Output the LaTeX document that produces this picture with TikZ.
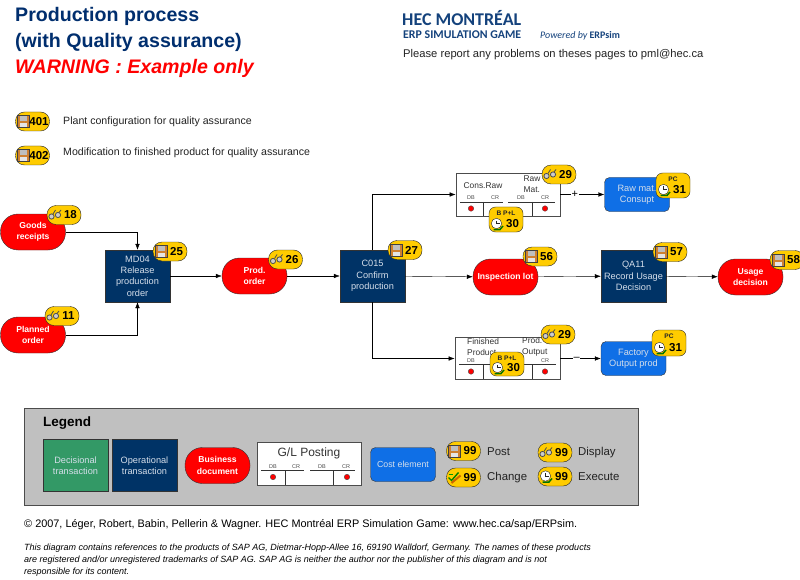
\documentclass[tikz,border=0pt]{standalone}
\usepackage{fontspec}
\setmainfont{Liberation Sans}
\newfontfamily\logofont{Carlito}
\usetikzlibrary{arrows.meta,positioning}

\definecolor{navy}{HTML}{003366}
\definecolor{titleblue}{HTML}{002E6E}
\definecolor{logoblue}{HTML}{14427C}
\definecolor{decgreen}{HTML}{339966}
\definecolor{costblue}{HTML}{0F6FE6}
\definecolor{gold}{HTML}{FFCC00}
\definecolor{paleblue}{HTML}{D5DEEA}
\definecolor{legendgray}{HTML}{C0C0C0}
\definecolor{bodytext}{HTML}{222222}

% small pill with an icon and a number
\newcommand{\badge}[4]{%
  \node[badge] (#1) at (#2) {};
  \pic at ([xshift=-9pt]#1.center) {#3};
  \node[badgenum] (#1-num) at ([xshift=6.5pt]#1.center) {#4};
}
% taller version with a module tag over the clock
\newcommand{\tagbadge}[4]{%
  \node[tagpill, minimum height=#3pt] (#1) at (#2) {};
  \node[tagtxt] (#1-tag) at ([yshift=#3/2*1pt-6pt]#1.center) {\detokenize{B P+L}};
  \pic at ([xshift=-9pt,yshift=-#3/2*1pt+8pt]#1.center) {exec};
  \node[badgenum] (#1-num) at ([xshift=6.5pt,yshift=-#3/2*1pt+8pt]#1.center) {#4};
}
\newcommand{\pcbadge}[4]{%
  \node[tagpill, minimum height=#3pt] (#1) at (#2) {};
  \node[tagtxt] (#1-tag) at ([yshift=#3/2*1pt-6pt]#1.center) {PC};
  \pic at ([xshift=-9pt,yshift=-#3/2*1pt+8pt]#1.center) {exec};
  \node[badgenum] (#1-num) at ([xshift=6.5pt,yshift=-#3/2*1pt+8pt]#1.center) {#4};
}

\begin{document}
\begin{tikzpicture}[
  x=1pt, y=-1pt,
  optrans/.style={draw=black!80, fill=navy, text=paleblue, minimum width=65pt,
                  minimum height=52pt, inner sep=0pt, align=center,
                  font=\fontsize{9.2}{11.3}\selectfont},
  dectrans/.style={optrans, fill=decgreen},
  doc/.style={draw=black!80, fill=red, text=white, minimum width=65pt,
              minimum height=36pt, inner sep=0pt, rounded corners=17.5pt, align=center,
              font=\fontsize{8.6}{11.3}\selectfont\bfseries},
  cost/.style={draw=black!80, fill=costblue, text=paleblue, minimum width=65pt,
               minimum height=34pt, inner sep=0pt, rounded corners=5pt, align=center,
               font=\fontsize{9.2}{11.3}\selectfont},
  glform/.style={draw=black!70, thick, fill=white, inner sep=0pt},
  gltxt/.style={font=\fontsize{8.4}{10.4}\selectfont, text=black!80, inner sep=0pt, align=left},
  glhead/.style={font=\fontsize{5.5}{6}\selectfont, text=black!70, inner sep=0pt},
  gldot/.style={circle, draw=black!70, fill=red, minimum size=5.5pt, inner sep=0pt},
  glrule/.style={draw=black!80},
  badge/.style={draw=black!85, fill=gold, minimum width=34pt, minimum height=19pt,
                inner sep=0pt, rounded corners=9pt},
  tagpill/.style={draw=black!85, fill=gold, minimum width=34pt, inner sep=0pt,
                  rounded corners=6.5pt},
  badgenum/.style={font=\fontsize{11.5}{12}\selectfont\bfseries, inner sep=0pt},
  tagtxt/.style={font=\fontsize{6.6}{7}\selectfont\bfseries, text=black!85, inner sep=0pt},
  body/.style={font=\fontsize{10.6}{12}\selectfont, text=bodytext, anchor=west, inner sep=0pt},
  every edge/.style={draw, -{Latex[length=6pt,width=4.5pt]}},
  link/.style={draw, -{Latex[length=6pt,width=4.5pt]}},
  lbl/.style={font=\fontsize{11}{11}\selectfont, fill=white, inner sep=0.5pt},
  post/.pic={
    \draw[black!75, fill=brown!75!orange] (-6,-6) rectangle (6,6);
    \fill[black!25] (-3.5,-5.5) rectangle (3.5,-0.5);
    \fill[black!10] (-3.5,1.5) rectangle (3.5,5.5);
  },
  display/.pic={
    \draw[black!70, fill=black!20, thick] (-3.5,1.5) circle (2.6);
    \draw[black!70, fill=black!20, thick] (3,0) circle (2.6);
    \draw[black!70, thick] (-2,-1) -- (0.5,-5) (4,-2.5) -- (6,-5);
  },
  change/.pic={
    \draw[green!50!black, line width=1.4pt] (-6,0) -- (-3,3) -- (4,-5);
    \draw[orange!80!black, line width=2pt] (-3,5.5) -- (6,-2);
    \draw[green!60!black, line width=1pt] (-6,-3) -- (-2,-3);
  },
  exec/.pic={
    \draw[green!45!black, line width=1.5pt] (-3.5,5.5) -- (3,5.5) -- (6,2);
    \draw[black!85, fill=white] (-0.5,-0.5) circle (5.2);
    \draw[black!85] (-0.5,-3.5) -- (-0.5,-0.5) -- (2.5,-0.5);
  }
]
  \useasboundingbox (0,0) rectangle (800,580);

  % heading
  \node[anchor=west, inner sep=0pt, text=titleblue, font=\fontsize{19.6}{20}\selectfont\bfseries]
    (title1) at (15,16) {Production process};
  \node[anchor=west, inner sep=0pt, text=titleblue, font=\fontsize{19.6}{20}\selectfont\bfseries]
    (title2) at (15,42) {(with Quality assurance)};
  \node[anchor=west, inner sep=0pt, text=red, font=\fontsize{19.6}{20}\selectfont\bfseries\itshape]
    (title3) at (15,68) {WARNING : Example only};

  % logo block
  \node[anchor=west, inner sep=0pt, text=logoblue] (logo1) at (402,18)
    {\resizebox{119pt}{!}{\logofont\bfseries HEC MONTRÉAL}};
  \node[anchor=west, inner sep=0pt, text=logoblue] (logo2) at (403,35)
    {\resizebox{118pt}{!}{\logofont\bfseries ERP SIMULATION GAME}};
  \node[anchor=west, inner sep=0pt, text=logoblue, font=\logofont\fontsize{10}{10}\selectfont] (logo3) at (540,36)
    {\itshape Powered by \upshape\bfseries ERPsim};
  \node[body, font=\fontsize{11.2}{12}\selectfont] (report) at (403,55)
    {Please report any problems on theses pages to pml@hec.ca};

  % notes at the top
  \badge{n401}{32.5,121.5}{post}{401}
  \badge{n402}{32.5,155.5}{post}{402}
  \node[body] (note401) at (63,122) {Plant configuration for quality assurance};
  \node[body] (note402) at (63,153) {Modification to finished product for quality assurance};

  % main flow
  \node[doc] (goods) at (33,232) {Goods\\receipts};
  \node[doc] (planned) at (33,335) {Planned\\order};
  \node[optrans] (md04) at (137.5,276) {MD04\\Release\\production\\order};
  \node[doc] (prod) at (254.5,276) {Prod.\\order};
  \node[optrans] (c015) at (372.5,276) {C015\\Confirm\\production};
  \node[doc] (insp) at (505.5,277) {Inspection lot};
  \node[optrans] (qa11) at (633.5,276) {QA11\\Record Usage\\Decision};
  \node[doc] (usage) at (750.5,277) {Usage\\decision};

  % postings
  \node[glform, minimum width=104pt, minimum height=43pt] (glraw) at (508,194.5) {};
  \node[glform, minimum width=105pt, minimum height=42pt] (glfin) at (507.5,358.5) {};
  \node[cost] (rawcost) at (637,194.5) {Raw mat.\\Consupt};
  \node[cost] (factcost) at (633.5,358.5) {Factory\\Output prod};

  \draw[link] (goods.east) -| (md04.north);
  \draw[link] (planned.east) -| (md04.south);
  \draw (md04) edge (prod);
  \draw (prod) edge (c015);
  \draw (c015) edge (insp);
  \draw (insp) edge (qa11);
  \draw (qa11) edge (usage);
  \draw[link] (c015.north) |- (glraw.west);
  \draw[link] (c015.south) |- (glfin.west);
  \draw (glraw) edge node[lbl, pos=0.33] {+} (rawcost);
  \draw (glfin) edge node[lbl, pos=0.4] {–} (factcost);

  % upper posting form
  \node[gltxt] (rawleft) at (483,186) {Cons.Raw};
  \node[gltxt] (rawright) at (532,184) {Raw\\Mat.};
  \node[glhead] (rawdb1) at (471,198) {DB};
  \node[glhead] (rawcr1) at (495,198) {CR};
  \node[glhead] (rawdb2) at (521,198) {DB};
  \node[glhead] (rawcr2) at (545,198) {CR};
  \draw[glrule] (460,202) -- (503,202) (508,202) -- (555,202);
  \draw[glrule] (483,202) -- (483,216) (532,202) -- (532,216);
  \node[gldot] (rawred1) at (471,208.5) {};
  \node[gldot] (rawred2) at (545,208.5) {};

  % lower posting form
  \node[gltxt, anchor=west] (finleft) at (467,347) {Finished\\Product};
  \node[gltxt, anchor=west] (finright) at (522,347) {Prod.\\Output};
  \node[glhead] (findb) at (471,361) {DB};
  \node[glhead] (fincr) at (545,361) {CR};
  \draw[glrule] (459,364) -- (556,364);
  \draw[glrule] (483,364) -- (483,379) (532,364) -- (532,379);
  \node[gldot] (finred1) at (471,371.5) {};
  \node[gldot] (finred2) at (545,371.5) {};

  % badges on the flow
  \badge{b18}{64,215}{display}{18}
  \badge{b11}{62,316}{display}{11}
  \badge{b25}{170,251.5}{post}{25}
  \badge{b26}{285.5,259.5}{display}{26}
  \badge{b27}{405,250}{post}{27}
  \badge{b56}{540,256.5}{post}{56}
  \badge{b57}{670,252}{post}{57}
  \badge{b58}{787,260}{post}{58}
  \badge{b29a}{559,174.5}{display}{29}
  \badge{b29b}{558,334.5}{display}{29}
  \tagbadge{b30a}{506,219.5}{25}{30}
  \tagbadge{b30b}{507,364}{24}{30}
  \pcbadge{b31a}{673,185.5}{25}{31}
  \pcbadge{b31b}{669,343}{26}{31}

  % legend
  \node[draw=black!70, thick, fill=legendgray, minimum width=614pt, minimum height=97pt,
        inner sep=0pt] (legend) at (331,456.5) {};
  \node[anchor=west, inner sep=0pt, font=\fontsize{13.5}{14}\selectfont\bfseries] (legendtitle) at (43,423) {Legend};
  \node[dectrans] (legdec) at (75.5,465.5) {Decisional\\transaction};
  \node[optrans] (legop) at (144.5,465.5) {Operational\\transaction};
  \node[doc] (legdoc) at (217.5,465.5) {Business\\document};
  \node[glform, minimum width=104pt, minimum height=43pt] (leggl) at (309,463.5) {};
  \node[gltxt, font=\fontsize{12}{13}\selectfont, anchor=center] (leggltxt) at (309,453) {G/L Posting};
  \node[glhead] (legdb1) at (273,467) {DB};
  \node[glhead] (legcr1) at (296,467) {CR};
  \node[glhead] (legdb2) at (322,467) {DB};
  \node[glhead] (legcr2) at (346,467) {CR};
  \draw[glrule] (261,470) -- (304,470) (310,470) -- (355,470);
  \draw[glrule] (285,470) -- (285,485) (333,470) -- (333,485);
  \node[gldot] (legred1) at (273,477) {};
  \node[gldot] (legred2) at (347,477) {};
  \node[cost, font=\fontsize{8.8}{11}\selectfont] (legcost) at (403,464.5) {Cost element};
  \badge{legpost}{463.5,451}{post}{99}
  \badge{legchange}{463.5,477.5}{change}{99}
  \badge{legdisplay}{555,452.5}{display}{99}
  \badge{legexec}{555,476.5}{exec}{99}
  \node[body, font=\fontsize{11.4}{12}\selectfont] (legposttxt) at (487,452) {Post};
  \node[body, font=\fontsize{11.4}{12}\selectfont] (legchangetxt) at (487,478) {Change};
  \node[body, font=\fontsize{11.4}{12}\selectfont] (legdisplaytxt) at (578,453) {Display};
  \node[body, font=\fontsize{11.4}{12}\selectfont] (legexectxt) at (578,477) {Execute};

  % footer
  \node[body, font=\fontsize{10.9}{12}\selectfont, text=black] (credit) at (24,525)
    {© 2007, Léger, Robert, Babin, Pellerin \& Wagner. HEC Montréal ERP Simulation Game: www.hec.ca/sap/ERPsim.};
  \node[anchor=north west, inner sep=0pt, align=left, text=black,
        font=\fontsize{9}{12}\selectfont\itshape] (disclaimer) at (24,544)
    {This diagram contains references to the products of SAP AG, Dietmar-Hopp-Allee 16, 69190 Walldorf, Germany. The names of these products\\
     are registered and/or unregistered trademarks of SAP AG. SAP AG is neither the author nor the publisher of this diagram and is not\\
     responsible for its content.};
\end{tikzpicture}
\end{document}
